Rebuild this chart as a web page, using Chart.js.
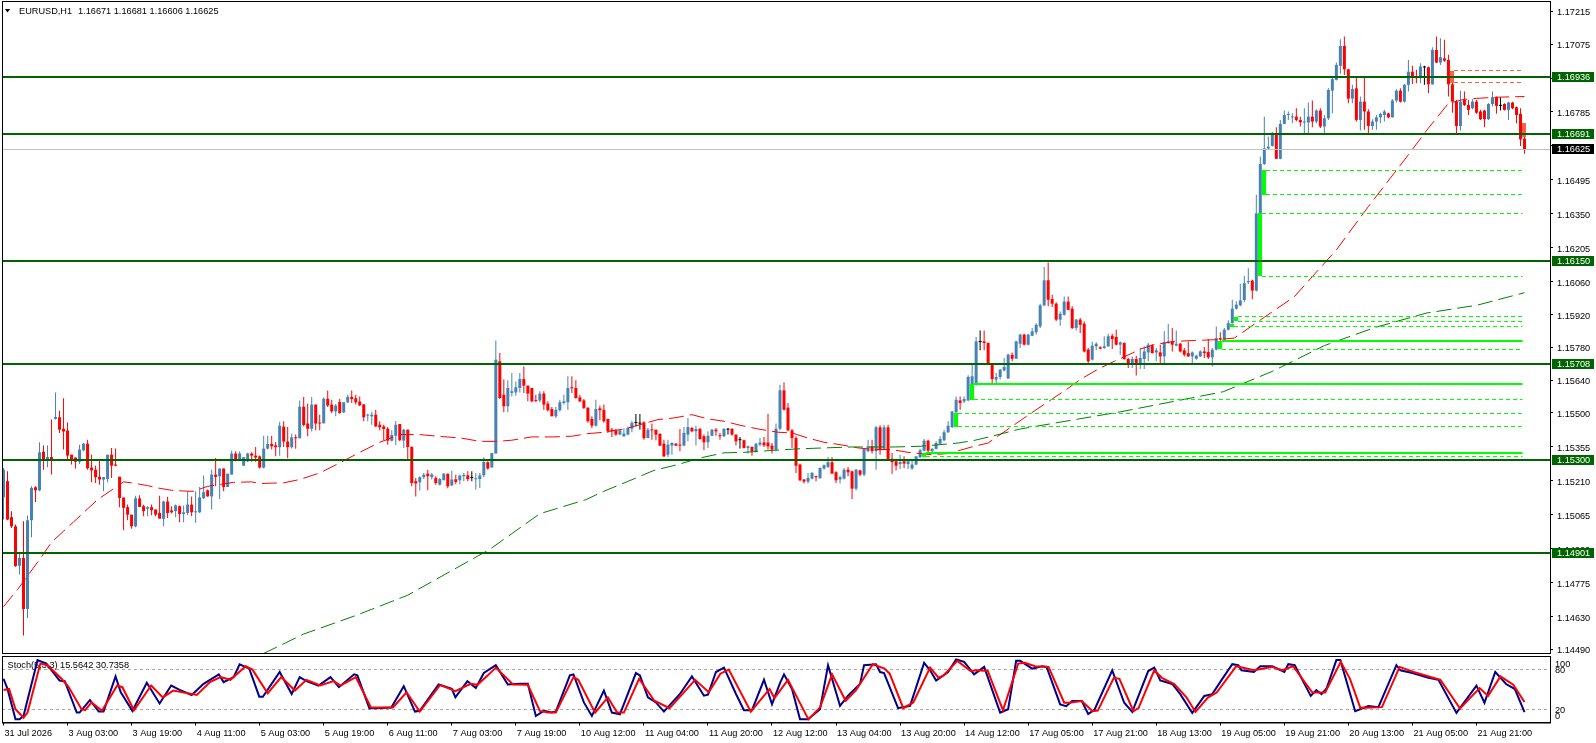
<!DOCTYPE html>
<html>
<head>
<meta charset="utf-8">
<script src="https://cdn.jsdelivr.net/npm/chart.js@4.4.1/dist/chart.umd.min.js"></script>
<style>
  html, body { margin: 0; padding: 0; background: #fff; }
  #wrap { position: relative; width: 1596px; height: 743px; overflow: hidden; }
  #main { position: absolute; left: 0; top: 0; }
  #stoch { position: absolute; left: 0; top: 655px; }
</style>
</head>
<body>
<div id="wrap">
  <canvas id="main" width="1596" height="655"></canvas>
  <canvas id="stoch" width="1596" height="88"></canvas>
</div>
<script>
// ---- data (EURUSD H1) ----
const symbol = 'EURUSD,H1';

const opens = [
  1.15139,1.15208,1.15054,1.15015,1.14847,1.14880,1.14662,1.15041,1.15182,1.15169,
  1.15334,1.15300,1.15311,1.15474,1.15481,1.15432,1.15424,1.15321,1.15309,1.15291,
  1.15340,1.15368,1.15266,1.15257,1.15227,1.15215,1.15217,1.15321,1.15279,1.15227,
  1.15138,1.15097,1.15065,1.15015,1.15134,1.15101,1.15090,1.15097,1.15087,1.15072,
  1.15047,1.15121,1.15083,1.15080,1.15101,1.15068,1.15072,1.15108,1.15075,1.15075,
  1.15135,1.15169,1.15143,1.15236,1.15229,1.15262,1.15183,1.15236,1.15326,1.15300,
  1.15274,1.15293,1.15326,1.15317,1.15314,1.15266,1.15347,1.15367,1.15361,1.15353,
  1.15441,1.15377,1.15353,1.15395,1.15391,1.15526,1.15454,1.15432,1.15535,1.15457,
  1.15455,1.15560,1.15535,1.15506,1.15546,1.15502,1.15545,1.15568,1.15562,1.15548,
  1.15536,1.15488,1.15485,1.15492,1.15449,1.15442,1.15432,1.15381,1.15402,1.15452,
  1.15381,1.15428,1.15354,1.15208,1.15203,1.15225,1.15240,1.15225,1.15222,1.15193,
  1.15212,1.15240,1.15190,1.15216,1.15212,1.15229,1.15233,1.15222,1.15216,1.15217,
  1.15233,1.15289,1.15267,1.15326,1.15720,1.15577,1.15528,1.15585,1.15587,1.15606,
  1.15644,1.15616,1.15606,1.15553,1.15553,1.15582,1.15539,1.15516,1.15485,1.15511,
  1.15542,1.15545,1.15609,1.15606,1.15566,1.15553,1.15521,1.15474,1.15445,1.15519,
  1.15513,1.15474,1.15428,1.15425,1.15407,1.15400,1.15407,1.15432,1.15457,1.15454,
  1.15459,1.15392,1.15428,1.15428,1.15411,1.15368,1.15321,1.15360,1.15368,1.15364,
  1.15360,1.15407,1.15435,1.15421,1.15431,1.15400,1.15374,1.15402,1.15428,1.15404,
  1.15400,1.15428,1.15431,1.15407,1.15383,1.15383,1.15350,1.15354,1.15334,1.15364,
  1.15373,1.15373,1.15360,1.15343,1.15432,1.15596,1.15522,1.15425,1.15392,1.15279,
  1.15215,1.15206,1.15219,1.15229,1.15220,1.15262,1.15269,1.15289,1.15246,1.15215,
  1.15219,1.15257,1.15250,1.15176,1.15254,1.15236,1.15336,1.15357,1.15336,1.15438,
  1.15346,1.15438,1.15304,1.15293,1.15281,1.15293,1.15281,1.15262,1.15279,1.15310,
  1.15338,1.15381,1.15336,1.15346,1.15368,1.15383,1.15417,1.15439,1.15503,1.15553,
  1.15549,1.15553,1.15620,1.15620,1.15802,1.15805,1.15798,1.15710,1.15642,1.15653,
  1.15681,1.15646,1.15748,1.15731,1.15795,1.15834,1.15791,1.15829,1.15844,1.15869,
  1.15959,1.16066,1.15986,1.15966,1.15898,1.15919,1.15975,1.15945,1.15862,1.15898,
  1.15881,1.15770,1.15727,1.15784,1.15780,1.15777,1.15784,1.15829,1.15824,1.15791,
  1.15798,1.15730,1.15710,1.15730,1.15713,1.15730,1.15758,1.15787,1.15758,1.15758,
  1.15741,1.15798,1.15805,1.15787,1.15795,1.15767,1.15755,1.15741,1.15731,1.15741,
  1.15762,1.15760,1.15737,1.15770,1.15819,1.15812,1.15855,1.15883,1.15945,1.15959,
  1.15982,1.16058,1.16065,1.16022,1.16350,1.16563,1.16629,1.16640,1.16694,1.16585,
  1.16734,1.16772,1.16762,1.16765,1.16751,1.16740,1.16740,1.16765,1.16744,1.16791,
  1.16723,1.16758,1.16876,1.16922,1.16982,1.17067,1.16967,1.16842,1.16886,1.16751,
  1.16829,1.16787,1.16725,1.16744,1.16762,1.16772,1.16779,1.16762,1.16834,1.16876,
  1.16829,1.16901,1.16957,1.16939,1.16933,1.16975,1.16976,1.16903,1.17050,1.16996,
  1.17014,1.17007,1.16903,1.16829,1.16725,1.16836,1.16815,1.16801,1.16829,1.16787,
  1.16791,1.16754,1.16819,1.16848,1.16811,1.16819,1.16794,1.16825,1.16805,1.16777,1.16671
];
const highs = [
  1.15264,1.15250,1.15080,1.15023,1.14906,1.15037,1.15061,1.15186,1.15186,1.15374,
  1.15360,1.15360,1.15471,1.15587,1.15509,1.15562,1.15459,1.15321,1.15309,1.15364,
  1.15371,1.15385,1.15321,1.15274,1.15303,1.15225,1.15321,1.15350,1.15348,1.15227,
  1.15138,1.15108,1.15065,1.15146,1.15148,1.15107,1.15101,1.15108,1.15087,1.15146,
  1.15124,1.15141,1.15101,1.15108,1.15104,1.15104,1.15165,1.15143,1.15165,1.15183,
  1.15232,1.15172,1.15257,1.15307,1.15262,1.15262,1.15240,1.15338,1.15336,1.15336,
  1.15311,1.15329,1.15331,1.15354,1.15318,1.15402,1.15402,1.15402,1.15375,1.15462,
  1.15464,1.15439,1.15410,1.15407,1.15553,1.15568,1.15539,1.15568,1.15535,1.15492,
  1.15566,1.15595,1.15556,1.15538,1.15559,1.15545,1.15577,1.15595,1.15577,1.15570,
  1.15538,1.15496,1.15505,1.15513,1.15464,1.15449,1.15439,1.15425,1.15465,1.15452,
  1.15431,1.15428,1.15357,1.15222,1.15229,1.15243,1.15257,1.15243,1.15229,1.15222,
  1.15243,1.15240,1.15253,1.15235,1.15235,1.15243,1.15250,1.15250,1.15243,1.15243,
  1.15310,1.15293,1.15328,1.15809,1.15755,1.15642,1.15639,1.15670,1.15634,1.15670,
  1.15698,1.15617,1.15606,1.15577,1.15592,1.15592,1.15549,1.15525,1.15525,1.15556,
  1.15577,1.15656,1.15656,1.15639,1.15577,1.15559,1.15525,1.15485,1.15556,1.15531,
  1.15535,1.15474,1.15435,1.15431,1.15425,1.15434,1.15442,1.15466,1.15495,1.15495,
  1.15464,1.15435,1.15454,1.15428,1.15411,1.15385,1.15385,1.15374,1.15371,1.15431,
  1.15439,1.15478,1.15439,1.15445,1.15435,1.15407,1.15421,1.15431,1.15435,1.15414,
  1.15435,1.15435,1.15435,1.15407,1.15397,1.15385,1.15360,1.15357,1.15371,1.15392,
  1.15397,1.15496,1.15371,1.15454,1.15620,1.15630,1.15542,1.15431,1.15400,1.15283,
  1.15217,1.15243,1.15247,1.15232,1.15267,1.15279,1.15311,1.15311,1.15250,1.15232,
  1.15264,1.15269,1.15254,1.15260,1.15257,1.15350,1.15385,1.15385,1.15445,1.15447,
  1.15449,1.15449,1.15328,1.15300,1.15321,1.15314,1.15300,1.15300,1.15314,1.15346,
  1.15388,1.15385,1.15350,1.15378,1.15400,1.15428,1.15464,1.15506,1.15570,1.15570,
  1.15570,1.15660,1.15706,1.15824,1.15852,1.15852,1.15801,1.15710,1.15670,1.15687,
  1.15734,1.15753,1.15758,1.15808,1.15838,1.15838,1.15838,1.15862,1.15883,1.15966,
  1.16123,1.16142,1.16004,1.15972,1.15933,1.15997,1.15997,1.15955,1.15901,1.15905,
  1.15891,1.15777,1.15805,1.15801,1.15784,1.15827,1.15838,1.15838,1.15855,1.15805,
  1.15801,1.15734,1.15741,1.15744,1.15777,1.15784,1.15798,1.15794,1.15777,1.15791,
  1.15848,1.15879,1.15862,1.15852,1.15798,1.15777,1.15805,1.15762,1.15748,1.15767,
  1.15781,1.15815,1.15777,1.15869,1.15844,1.15862,1.15895,1.15983,1.15976,1.16051,
  1.16085,1.16117,1.16068,1.16431,1.16595,1.16765,1.16680,1.16701,1.16720,1.16751,
  1.16791,1.16787,1.16779,1.16801,1.16765,1.16801,1.16825,1.16834,1.16797,1.16801,
  1.16772,1.16886,1.16933,1.16996,1.17096,1.17107,1.16970,1.16901,1.16939,1.16851,
  1.16933,1.16797,1.16754,1.16772,1.16782,1.16794,1.16782,1.16839,1.16882,1.16886,
  1.16905,1.17007,1.16982,1.16965,1.16993,1.16982,1.16979,1.17061,1.17107,1.17100,
  1.17093,1.17029,1.16910,1.16836,1.16876,1.16872,1.16836,1.16839,1.16836,1.16794,
  1.16794,1.16822,1.16872,1.16851,1.16848,1.16822,1.16829,1.16829,1.16808,1.16801,1.16681
];
const lows = [
  1.15044,1.15041,1.15008,1.14842,1.14809,1.14549,1.14624,1.14968,1.15119,1.15165,
  1.15257,1.15267,1.15236,1.15471,1.15414,1.15343,1.15300,1.15279,1.15262,1.15281,
  1.15336,1.15257,1.15203,1.15200,1.15193,1.15165,1.15203,1.15222,1.15272,1.15097,
  1.14998,1.15041,1.15005,1.15011,1.15098,1.15058,1.15058,1.15062,1.15058,1.15048,
  1.15015,1.15051,1.15070,1.15054,1.15032,1.15032,1.15062,1.15058,1.15030,1.15072,
  1.15132,1.15141,1.15087,1.15186,1.15132,1.15165,1.15183,1.15236,1.15293,1.15300,
  1.15274,1.15290,1.15291,1.15291,1.15262,1.15262,1.15343,1.15343,1.15314,1.15317,
  1.15354,1.15306,1.15347,1.15346,1.15391,1.15442,1.15400,1.15420,1.15425,1.15425,
  1.15455,1.15525,1.15499,1.15485,1.15496,1.15499,1.15542,1.15542,1.15535,1.15528,
  1.15464,1.15464,1.15449,1.15439,1.15424,1.15383,1.15364,1.15377,1.15363,1.15379,
  1.15350,1.15303,1.15186,1.15143,1.15168,1.15217,1.15169,1.15215,1.15193,1.15189,
  1.15212,1.15178,1.15186,1.15195,1.15195,1.15208,1.15208,1.15208,1.15172,1.15179,
  1.15225,1.15257,1.15264,1.15326,1.15559,1.15502,1.15502,1.15570,1.15573,1.15587,
  1.15585,1.15549,1.15545,1.15545,1.15545,1.15513,1.15506,1.15485,1.15478,1.15506,
  1.15535,1.15513,1.15585,1.15560,1.15545,1.15516,1.15457,1.15435,1.15442,1.15468,
  1.15457,1.15414,1.15397,1.15402,1.15404,1.15397,1.15404,1.15417,1.15442,1.15428,
  1.15385,1.15392,1.15385,1.15383,1.15357,1.15311,1.15311,1.15321,1.15357,1.15336,
  1.15357,1.15378,1.15417,1.15360,1.15385,1.15340,1.15350,1.15400,1.15402,1.15385,
  1.15397,1.15407,1.15402,1.15360,1.15347,1.15347,1.15326,1.15317,1.15331,1.15357,
  1.15354,1.15343,1.15326,1.15336,1.15425,1.15511,1.15421,1.15350,1.15243,1.15208,
  1.15198,1.15198,1.15215,1.15208,1.15219,1.15257,1.15264,1.15240,1.15200,1.15198,
  1.15215,1.15229,1.15132,1.15168,1.15229,1.15229,1.15331,1.15326,1.15257,1.15321,
  1.15340,1.15300,1.15240,1.15254,1.15260,1.15264,1.15260,1.15257,1.15276,1.15307,
  1.15336,1.15321,1.15331,1.15343,1.15364,1.15378,1.15414,1.15435,1.15499,1.15513,
  1.15542,1.15549,1.15616,1.15616,1.15767,1.15767,1.15706,1.15624,1.15627,1.15642,
  1.15677,1.15646,1.15720,1.15730,1.15777,1.15788,1.15788,1.15827,1.15834,1.15862,
  1.15955,1.15955,1.15952,1.15891,1.15872,1.15915,1.15938,1.15858,1.15852,1.15841,
  1.15758,1.15713,1.15723,1.15767,1.15770,1.15772,1.15781,1.15772,1.15787,1.15748,
  1.15727,1.15691,1.15691,1.15659,1.15687,1.15687,1.15720,1.15753,1.15720,1.15710,
  1.15706,1.15795,1.15762,1.15784,1.15758,1.15741,1.15738,1.15710,1.15727,1.15738,
  1.15734,1.15730,1.15698,1.15767,1.15808,1.15805,1.15852,1.15881,1.15940,1.15955,
  1.15972,1.16050,1.15985,1.16018,1.16350,1.16559,1.16623,1.16637,1.16585,1.16583,
  1.16734,1.16751,1.16737,1.16744,1.16723,1.16694,1.16694,1.16720,1.16737,1.16716,
  1.16694,1.16751,1.16779,1.16919,1.16948,1.16943,1.16822,1.16822,1.16744,1.16706,
  1.16709,1.16687,1.16709,1.16709,1.16737,1.16744,1.16758,1.16761,1.16825,1.16825,
  1.16825,1.16872,1.16905,1.16908,1.16908,1.16901,1.16865,1.16901,1.16993,1.16986,
  1.17000,1.16851,1.16782,1.16687,1.16706,1.16811,1.16772,1.16797,1.16777,1.16751,
  1.16720,1.16751,1.16808,1.16777,1.16791,1.16791,1.16751,1.16797,1.16737,1.16640,1.16606
];
const closes = [
  1.15257,1.15044,1.15015,1.14845,1.14880,1.14662,1.15041,1.15179,1.15169,1.15331,
  1.15300,1.15311,1.15300,1.15482,1.15428,1.15420,1.15317,1.15300,1.15291,1.15343,
  1.15368,1.15263,1.15254,1.15225,1.15215,1.15225,1.15321,1.15274,1.15274,1.15136,
  1.15094,1.15065,1.15015,1.15135,1.15098,1.15080,1.15097,1.15084,1.15065,1.15048,
  1.15121,1.15072,1.15075,1.15104,1.15068,1.15075,1.15108,1.15075,1.15077,1.15138,
  1.15161,1.15143,1.15236,1.15226,1.15262,1.15183,1.15240,1.15326,1.15300,1.15326,
  1.15310,1.15326,1.15317,1.15309,1.15266,1.15347,1.15367,1.15357,1.15353,1.15445,
  1.15377,1.15353,1.15395,1.15391,1.15526,1.15448,1.15432,1.15535,1.15454,1.15454,
  1.15560,1.15531,1.15506,1.15531,1.15499,1.15545,1.15568,1.15559,1.15545,1.15532,
  1.15481,1.15492,1.15492,1.15442,1.15438,1.15431,1.15381,1.15405,1.15449,1.15383,
  1.15428,1.15354,1.15200,1.15198,1.15225,1.15236,1.15229,1.15237,1.15200,1.15217,
  1.15240,1.15186,1.15215,1.15205,1.15232,1.15235,1.15217,1.15222,1.15219,1.15233,
  1.15290,1.15262,1.15328,1.15727,1.15563,1.15528,1.15606,1.15592,1.15609,1.15644,
  1.15616,1.15582,1.15549,1.15550,1.15582,1.15535,1.15511,1.15485,1.15513,1.15545,
  1.15549,1.15606,1.15605,1.15563,1.15549,1.15521,1.15464,1.15445,1.15516,1.15511,
  1.15464,1.15421,1.15421,1.15407,1.15425,1.15411,1.15435,1.15457,1.15457,1.15454,
  1.15392,1.15428,1.15425,1.15407,1.15360,1.15314,1.15364,1.15371,1.15360,1.15360,
  1.15414,1.15439,1.15421,1.15431,1.15388,1.15374,1.15402,1.15428,1.15421,1.15400,
  1.15431,1.15428,1.15407,1.15378,1.15383,1.15350,1.15357,1.15334,1.15368,1.15373,
  1.15361,1.15357,1.15343,1.15432,1.15596,1.15513,1.15425,1.15392,1.15274,1.15212,
  1.15206,1.15222,1.15243,1.15225,1.15264,1.15276,1.15289,1.15240,1.15212,1.15225,
  1.15257,1.15246,1.15176,1.15257,1.15236,1.15346,1.15357,1.15336,1.15438,1.15340,
  1.15438,1.15303,1.15289,1.15274,1.15289,1.15283,1.15293,1.15279,1.15314,1.15340,
  1.15381,1.15338,1.15346,1.15371,1.15388,1.15417,1.15445,1.15506,1.15556,1.15542,
  1.15559,1.15653,1.15656,1.15805,1.15802,1.15798,1.15710,1.15644,1.15653,1.15684,
  1.15696,1.15748,1.15731,1.15805,1.15834,1.15791,1.15834,1.15848,1.15876,1.15959,
  1.16066,1.15983,1.15966,1.15898,1.15923,1.15975,1.15940,1.15862,1.15898,1.15876,
  1.15762,1.15720,1.15787,1.15795,1.15774,1.15784,1.15827,1.15815,1.15791,1.15801,
  1.15730,1.15706,1.15730,1.15713,1.15734,1.15762,1.15791,1.15755,1.15767,1.15741,
  1.15801,1.15805,1.15791,1.15795,1.15762,1.15748,1.15741,1.15758,1.15744,1.15762,
  1.15755,1.15737,1.15770,1.15819,1.15812,1.15855,1.15883,1.15945,1.15962,1.15980,
  1.16054,1.16063,1.16022,1.16352,1.16563,1.16629,1.16637,1.16694,1.16585,1.16734,
  1.16772,1.16775,1.16765,1.16751,1.16741,1.16744,1.16765,1.16744,1.16791,1.16723,
  1.16758,1.16879,1.16925,1.16986,1.17067,1.16967,1.16842,1.16883,1.16751,1.16829,
  1.16787,1.16725,1.16744,1.16762,1.16777,1.16787,1.16762,1.16834,1.16876,1.16829,
  1.16901,1.16957,1.16933,1.16929,1.16979,1.16975,1.16903,1.17050,1.16996,1.17019,
  1.17004,1.16903,1.16829,1.16725,1.16829,1.16815,1.16794,1.16829,1.16782,1.16754,
  1.16754,1.16819,1.16848,1.16811,1.16811,1.16794,1.16825,1.16801,1.16772,1.16668,1.16625
];

// time axis: one label every 16 bars
const tickStep = 16;
const tickLabels = ['31 Jul 2026','3 Aug 03:00','3 Aug 19:00','4 Aug 11:00','5 Aug 03:00','5 Aug 19:00',
  '6 Aug 11:00','7 Aug 03:00','7 Aug 19:00','10 Aug 12:00','11 Aug 04:00','11 Aug 20:00','12 Aug 12:00',
  '13 Aug 04:00','13 Aug 20:00','14 Aug 12:00','17 Aug 05:00','17 Aug 21:00','18 Aug 13:00','19 Aug 05:00',
  '19 Aug 21:00','20 Aug 13:00','21 Aug 05:00','21 Aug 21:00'];

// price scale labels
const priceTicks = [1.17215,1.17075,1.16930,1.16785,1.16640,1.16495,1.16350,1.16205,1.16060,1.15920,
  1.15780,1.15640,1.15500,1.15355,1.15210,1.15065,1.14920,1.14775,1.14630,1.14490];

// horizontal support / resistance levels
const levelPrices = [1.16936, 1.16691, 1.16150, 1.15708, 1.15300, 1.14901];

// moving averages (sampled along the drawn curves)
const maFastIdx = [0,3.5,9,12,17.5,23.5,30,32,36,38.5,42,46,47.5,51,57.5,62,64,70,74,79,84,89,94,99,104,109,114,
  119,123.5,127,132,137.5,142,146,150,155,159,163.5,167.5,172,176,180,184,188.5,193.5,197,201,205,209,213.5,217.5,
  222,226,229,232,236,239,242.5,246,256,265.5,269,273.5,277.5,282,284,287.5,292.5,297.5,302.5,307.5,315,322.5,333,
  341,350,356,361,365,368,373,380];
const maFastVal = [1.14672,1.14745,1.14873,1.14947,1.15034,1.15129,1.15205,1.15201,1.15189,1.15179,1.15169,1.15165,
  1.15165,1.15186,1.15203,1.15205,1.15198,1.15201,1.15215,1.15243,1.15286,1.15331,1.15374,1.15407,1.15407,1.15399,
  1.15393,1.15378,1.15378,1.15383,1.15397,1.15397,1.15400,1.15411,1.15417,1.15431,1.15449,1.15471,1.15478,1.15492,
  1.15474,1.15464,1.15447,1.15431,1.15417,1.15414,1.15392,1.15374,1.15364,1.15350,1.15343,1.15343,1.15331,1.15326,
  1.15321,1.15326,1.15340,1.15357,1.15371,1.15490,1.15599,1.15642,1.15687,1.15720,1.15755,1.15772,1.15791,1.15805,
  1.15809,1.15812,1.15819,1.15908,1.15996,1.16196,1.16381,1.16580,1.16716,1.16822,1.16839,1.16843,1.16848,1.16851];
const maSlowIdx = [60,65,75,88,101,121.5,134,145.5,150,156,162.5,168.5,174,180,185,192.5,198.5,205,211.75,222.5,229,
  234,238.5,242.5,246.75,253.75,279,304.75,317,330,342.75,355.5,368.25,380];
const maSlowVal = [1.14440,1.14472,1.14555,1.14634,1.14721,1.14917,1.15069,1.15129,1.15165,1.15207,1.15254,1.15279,
  1.15307,1.15329,1.15331,1.15340,1.15346,1.15350,1.15354,1.15354,1.15357,1.15364,1.15371,1.15382,1.15399,1.15430,
  1.15504,1.15590,1.15677,1.15787,1.15865,1.15926,1.15960,1.16013];

// imbalance zones (bar, low, high) and the lines projected from them
const bullZoneBar = [230, 238, 242, 304, 307, 308, 314, 315];
const bullZoneLow = [1.15312, 1.15440, 1.15555, 1.15772, 1.15868, 1.15890, 1.16083, 1.16431];
const bullZoneHigh = [1.15330, 1.15498, 1.15623, 1.15807, 1.15880, 1.15910, 1.16352, 1.16537];
const bullLinePrice = [1.15330,1.15312,1.15498,1.15440,1.15623,1.15555,1.15807,1.15772,1.15868,1.15910,1.15890,
  1.16352,1.16083,1.16537,1.16431];
const bullLineFrom = [230,230,238,238,242,242,304,304,307,308,308,314,314,315,315];
const bullLineTested = [true,false,false,false,true,false,true,false,false,false,false,false,false,false,false];
const bearZoneBar = [362, 380];
const bearZoneLow = [1.16909, 1.16677];
const bearZoneHigh = [1.16960, 1.16738];
const bearLinePrice = [1.16960, 1.16909];
const bearLineFrom = [362, 362];

// stochastic (5,3,3): main and signal, sampled at their turning points
const stochKIdx = [0,1,3,4,5,8.5,10.7,14,15.3,18.3,19,21.6,23.8,25,28,29.3,32.2,35.8,39,41.9,44,47,50,53.8,55,57.5,59,
  61.4,63.9,64.8,69,72,74,75.7,78.7,81.7,83.8,87.6,88.4,91.4,93,96.9,100,102.8,104,108.7,112,112.9,115.9,118,120,123,
  126,129,131,133,135,137,138,141.5,142.4,145,147,150,152,154,158,159,161,163,165,169,172,175,176,178,180,183,185,187,
  190,192,194,195,197,199,201,204,206,209,211,214,215,218,219,220,223.5,226.5,230,231.5,233,236,238,240,242.5,245,
  249,251,253,254,257,259.5,260.6,264,265.5,267,269.4,271,272.6,277,280,282,286,287.5,289,292,294,297,300,302,304.5,
  307,308.5,309.3,312.4,314,317,320,321,322.6,326.6,328,329.3,330.6,333,334,337.7,341,343.5,348,349,352,356,358.5,
  363,368,370,372.7,375.4,377.6,380];
const stochKVal = [65.8,50.5,4.7,4.7,9.8,93.7,88.6,63.2,62.2,14.9,14.9,33.7,16.4,16.4,69.3,45.4,17.5,59.7,28.6,55.6,49,
  41.4,58.1,72.4,60.7,68.3,87.6,81,38.8,38.8,75.9,42.9,68.3,62.2,55.6,68.3,53.1,72.4,70.9,21.5,21.5,22.5,54.6,16.4,
  17.5,57.1,50.5,37.8,62.2,52,74.4,86.1,57.1,58.1,58.1,9.8,17.5,14.9,16.4,70.9,72.4,30.2,9.8,48,14.9,12.4,74.4,70.9,
  37.8,30.2,16.4,42.9,69.3,40.3,41.9,75.9,82.5,42.9,18.5,18.5,64.2,27.6,59.2,72.4,50.5,4.7,4.7,20,86.1,25.1,40.3,58.1,
  86.1,87.6,75.9,74.4,21.5,25.1,89.7,78.5,63.2,75.9,94.7,91.2,72.4,83.6,14.9,20,92.7,92.7,81,84.6,83.6,27.2,24.6,32.3,
  32.3,12.8,19.5,78.5,29.7,15.9,77.4,82.6,63.1,57.9,42.6,14.4,40,42.6,65.6,87.7,86.2,78.5,75.9,84.6,84.6,75.9,87.7,
  86.2,40,48.7,42.6,51.8,93.8,93.8,16.9,24.6,23.1,86.2,78.5,74.4,67.2,64.1,14.4,55.4,29.7,75.9,57.9,50.3,15.5642];
const stochDIdx = [0,1.4,3,5,6,9.2,11,14.5,16.2,19.5,20.4,22,24.6,28.4,29.7,32.6,36.9,39.8,42.4,48.3,51.6,54.2,56.7,
  60.5,62.2,66,69.4,72.8,75.7,79.1,82.5,84.2,88,91.8,97.3,100.7,104,109.1,112.9,116.7,118.4,121,123,127.3,131,134,
  136,138,142.4,143.6,147.8,151,153.3,155,158.8,162.6,166.4,172.8,176.2,179.1,181.2,186.7,191.4,192.6,196,201.1,204,
  207,210.4,212.9,217.2,220.1,221.4,224.8,227.3,231.5,233.6,234.9,238.3,241.6,243.3,245.9,249.7,253.5,255.2,257.7,
  261.1,265,266.3,269.4,272.1,273.4,277.4,278.8,282.3,283.6,287.5,289.4,292.5,295.6,297.8,300.9,303.1,308,312.4,
  316.9,319.5,322.2,327,330.2,334.1,336.4,339,344.4,348.8,352.3,359,363.9,368.8,370.9,374,377.2,380];
const stochDVal = [49,50.5,20,7.3,14.9,88.6,86.1,65.8,54.1,20,18.5,30.2,17.5,55.6,53.1,18.5,55.6,37.8,48,41.4,60.7,
  68.3,64.2,84.6,79.5,43.9,68.3,48,64.2,55.6,62.2,55.6,68.3,22.5,22.5,45.4,16.4,56.6,47,58.1,56.6,70.9,82.5,57.1,
  56.8,17.5,14.9,14.9,68.3,64.2,14.9,37.8,14.9,14.9,65.8,32.7,21.5,64.2,45.4,73.4,79.5,16.4,50.5,36.8,64.2,4.7,22.5,
  72.4,32.7,48,87.6,81,73.4,21.5,30.2,82.5,67.3,70.9,92.7,77.5,78.5,77.5,18.5,88.6,89.7,84.6,83.6,29.7,29.7,32.3,
  16.9,17.9,67.2,65.6,16.9,22,78.5,67.2,57.9,37.4,15.9,37.4,45.1,84.6,78.5,83.6,78.5,84.6,45.1,45.1,91.3,65.6,22,
  23.1,83.6,75.9,64.1,21,51.8,40,69.2,56.9,30.7358];
const stochLevels = [20, 80];
const stochAxisLabels = [100, 80, 20, 0];

// ---- drawing ----
const FONT = 'Liberation Sans, Arial, sans-serif';
const FSIZE = 9.2;
Chart.defaults.font.family = FONT;
Chart.defaults.font.size = FSIZE;
Chart.defaults.color = '#000';

const lastIndex = closes.length - 1;
const xMin = -0.375, xMax = 386.375;      // 4 px per bar, right shift after the last bar
const yMin = 1.14474, yMax = 1.17259;
const BULL = '#4682B4', BEAR = '#FF0000', DOJI = '#000000';
const LEVEL = '#006400', ZONE_UP = '#00FF00', ZONE_DN = '#FF6347';

const candleColor = i => closes[i] > opens[i] ? BULL : (closes[i] < opens[i] ? BEAR : DOJI);
const wickData = lows.map((l, i) => ({ x: i, y: [l, highs[i]] }));
const bodyData = opens.map((o, i) => ({ x: i, y: [o, closes[i]] }));
const maFastData = maFastIdx.map((x, k) => ({ x, y: maFastVal[k] }));
const maSlowData = maSlowIdx.map((x, k) => ({ x, y: maSlowVal[k] }));

const mainOverlay = {
  id: 'mainOverlay',
  afterDatasetsDraw(chart) {
    const { ctx, chartArea: a, scales: { x, y } } = chart;
    const px = v => x.getPixelForValue(v);
    const py = v => y.getPixelForValue(v);
    ctx.save();
    ctx.beginPath();
    ctx.rect(a.left, a.top, a.right - a.left, a.bottom - a.top);
    ctx.clip();

    const zones = (bars, lo, hi, color) => bars.forEach((b, k) => {
      const x0 = Math.floor(px(b - 0.5)), x1 = Math.floor(px(b + 0.5));
      const y0 = Math.round(py(hi[k])), y1 = Math.round(py(lo[k]));
      ctx.fillStyle = color;
      ctx.fillRect(x0, y0, x1 - x0, Math.max(1, y1 - y0));
    });
    zones(bullZoneBar, bullZoneLow, bullZoneHigh, ZONE_UP);
    zones(bearZoneBar, bearZoneLow, bearZoneHigh, ZONE_DN);

    const xEnd = px(lastIndex - 0.5);
    const hline = (p, from, color, solid) => {
      ctx.strokeStyle = color;
      ctx.lineWidth = solid ? 2 : 1;
      ctx.setLineDash(solid ? [] : [4, 3]);
      const yy = solid ? Math.round(py(p)) : Math.floor(py(p)) + 0.5;
      ctx.beginPath();
      ctx.moveTo(Math.floor(px(from + 0.5)), yy);
      ctx.lineTo(xEnd, yy);
      ctx.stroke();
    };
    bullLinePrice.forEach((p, k) => hline(p, bullLineFrom[k], ZONE_UP, bullLineTested[k]));
    bearLinePrice.forEach((p, k) => hline(p, bearLineFrom[k], ZONE_DN, false));

    // bid line
    ctx.setLineDash([]);
    ctx.strokeStyle = '#C0C0C0';
    ctx.lineWidth = 1;
    const by = Math.floor(py(closes[lastIndex])) + 0.5;
    ctx.beginPath(); ctx.moveTo(a.left, by); ctx.lineTo(a.right, by); ctx.stroke();

    // levels
    ctx.strokeStyle = LEVEL;
    ctx.lineWidth = 2;
    levelPrices.forEach(p => {
      const ly = Math.round(py(p));
      ctx.beginPath(); ctx.moveTo(a.left, ly); ctx.lineTo(a.right, ly); ctx.stroke();
    });
    ctx.restore();
  },
  afterDraw(chart) {
    const { ctx, chartArea: a, scales: { y } } = chart;
    ctx.save();
    ctx.strokeStyle = '#000';
    ctx.lineWidth = 1;
    ctx.strokeRect(a.left + 0.5, a.top + 0.5, a.right - a.left, a.bottom - a.top);

    ctx.font = `${FSIZE}px ${FONT}`;
    ctx.textBaseline = 'middle';
    const box = (p, bg) => {
      const yy = y.getPixelForValue(p);
      ctx.fillStyle = bg;
      ctx.fillRect(a.right + 2, Math.round(yy) - 5, 42, 10);
      ctx.fillStyle = '#fff';
      ctx.fillText(p.toFixed(5), a.right + 7, yy + 0.5);
    };
    levelPrices.forEach(p => box(p, LEVEL));
    box(closes[lastIndex], '#000');

    // header
    ctx.fillStyle = '#000';
    ctx.beginPath();
    ctx.moveTo(5, 9); ctx.lineTo(10, 9); ctx.lineTo(7.5, 12.5); ctx.closePath(); ctx.fill();
    const ohlc = [opens, highs, lows, closes].map(s => s[lastIndex].toFixed(5)).join(' ');
    ctx.fillText(symbol, 19, 11.5);
    ctx.fillText(ohlc, 78, 11.5);
    ctx.restore();
  }
};

new Chart(document.getElementById('main'), {
  type: 'bar',
  data: {
    datasets: [
      { type: 'bar', data: wickData, backgroundColor: c => candleColor(c.dataIndex),
        barThickness: 1, grouped: false, borderWidth: 0, inflateAmount: 0, order: 3 },
      { type: 'bar', data: bodyData, backgroundColor: c => candleColor(c.dataIndex),
        barThickness: 3, grouped: false, borderWidth: 0, inflateAmount: 0, minBarLength: 1, order: 2 },
      { type: 'line', data: maSlowData, borderColor: '#008000', borderWidth: 1, borderDash: [15, 6],
        pointRadius: 0, tension: 0, order: 1 },
      { type: 'line', data: maFastData, borderColor: '#FF0000', borderWidth: 1, borderDash: [15, 6],
        pointRadius: 0, tension: 0, order: 1 }
    ]
  },
  options: {
    responsive: false,
    animation: false,
    events: [],
    layout: { padding: { left: 2, top: 1, right: 0, bottom: 2 } },
    plugins: { legend: { display: false }, tooltip: { enabled: false } },
    scales: {
      x: { type: 'linear', min: xMin, max: xMax, offset: false, display: false, grid: { offset: false } },
      y: {
        position: 'right', min: yMin, max: yMax, beginAtZero: false,
        afterBuildTicks: s => { s.ticks = priceTicks.map(v => ({ value: v })); },
        afterFit: s => { s.width = 46; s.paddingTop = 0; s.paddingBottom = 0; },
        ticks: { callback: v => Number(v).toFixed(5), autoSkip: false, padding: 4, labelOffset: 1.5, color: '#000' },
        grid: { drawOnChartArea: false, tickLength: 3, tickColor: '#000' },
        border: { display: true, color: '#000' }
      }
    }
  },
  plugins: [mainOverlay]
});

const stochOverlay = {
  id: 'stochOverlay',
  beforeDatasetsDraw(chart) {
    const { ctx, chartArea: a, scales: { y } } = chart;
    ctx.save();
    ctx.strokeStyle = '#A8A8A8';
    ctx.lineWidth = 1;
    ctx.setLineDash([3, 3]);
    stochLevels.forEach(v => {
      const ly = Math.floor(y.getPixelForValue(v)) + 0.5;
      ctx.beginPath(); ctx.moveTo(a.left, ly); ctx.lineTo(a.right, ly); ctx.stroke();
    });
    ctx.setLineDash([]);
    ctx.font = `${FSIZE}px ${FONT}`;
    ctx.fillStyle = '#000';
    ctx.textBaseline = 'middle';
    const k = stochKVal[stochKVal.length - 1].toFixed(4);
    const d = stochDVal[stochDVal.length - 1].toFixed(4);
    ctx.fillText(`Stoch(5,3,3) ${k} ${d}`, 7.5, a.top + 9);
    ctx.restore();
  },
  afterDraw(chart) {
    const { ctx, chartArea: a, scales: { y } } = chart;
    ctx.save();
    ctx.strokeStyle = '#000';
    ctx.lineWidth = 1;
    ctx.strokeRect(a.left + 0.5, a.top + 0.5, a.right - a.left, a.bottom - a.top);
    ctx.font = `${FSIZE}px ${FONT}`;
    ctx.fillStyle = '#000';
    ctx.textBaseline = 'middle';
    stochAxisLabels.forEach(v => {
      let ly = y.getPixelForValue(v) + 1;
      ly = Math.min(Math.max(ly, a.top + 8), a.bottom - 6.5);
      ctx.fillText(String(v), a.right + 5, ly);
    });
    ctx.restore();
  }
};

new Chart(document.getElementById('stoch'), {
  type: 'line',
  data: {
    datasets: [
      { data: stochDIdx.map((x, k) => ({ x, y: stochDVal[k] })), borderColor: '#FF0000', borderWidth: 2,
        pointRadius: 0, tension: 0, order: 1 },
      { data: stochKIdx.map((x, k) => ({ x, y: stochKVal[k] })), borderColor: '#00008B', borderWidth: 2,
        pointRadius: 0, tension: 0, order: 2 }
    ]
  },
  options: {
    responsive: false,
    animation: false,
    events: [],
    layout: { padding: { left: 2, top: 1, right: 0, bottom: 0 } },
    plugins: { legend: { display: false }, tooltip: { enabled: false } },
    scales: {
      x: {
        type: 'linear', min: xMin, max: xMax, offset: false, position: 'bottom',
        afterBuildTicks: s => { s.ticks = tickLabels.map((t, k) => ({ value: k * tickStep })); },
        afterFit: s => { s.height = 20.5; s.paddingLeft = 0; s.paddingRight = 0; },
        ticks: { autoSkip: false, maxRotation: 0, minRotation: 0, align: 'start', labelOffset: 1, padding: 2,
          color: '#000', callback: v => tickLabels[Math.round(v / tickStep)] },
        grid: { drawOnChartArea: false, tickLength: 3, tickColor: '#000', offset: false },
        border: { display: true, color: '#000' }
      },
      y: {
        position: 'right', min: 0, max: 100,
        ticks: { display: false }, grid: { display: false },
        border: { display: true, color: '#000' },
        afterFit: s => { s.width = 46; s.paddingTop = 0; s.paddingBottom = 0; }
      }
    }
  },
  plugins: [stochOverlay]
});
</script>
</body>
</html>
